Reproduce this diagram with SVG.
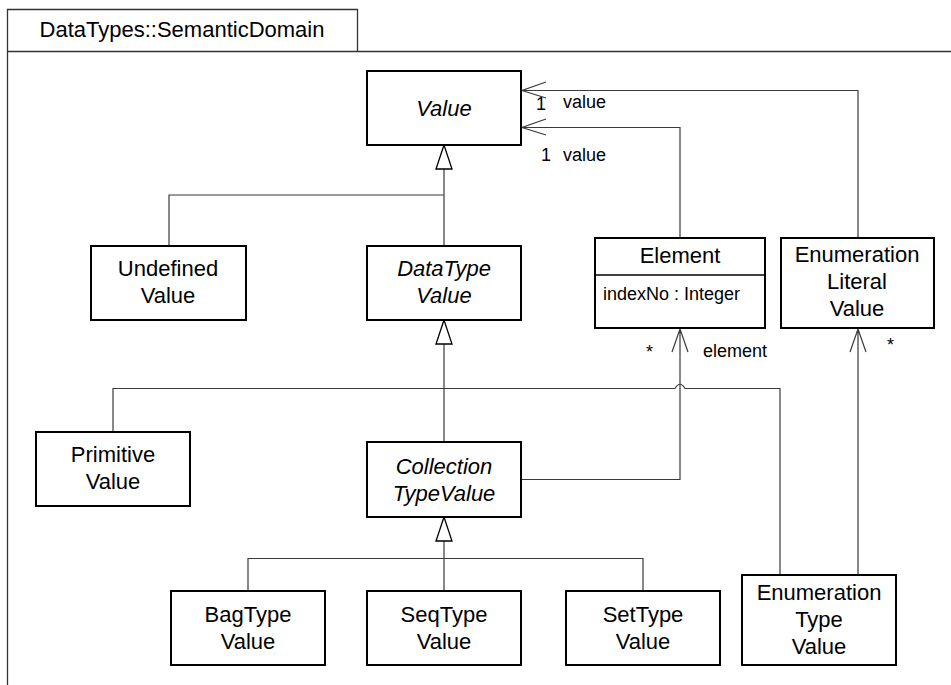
<svg xmlns="http://www.w3.org/2000/svg" width="951" height="685" viewBox="0 0 951 685">
<style>
.box{fill:#fff;stroke:#000;stroke-width:2}
.t{font-family:"Liberation Sans",Arial,sans-serif;font-size:22px;fill:#000;text-anchor:middle}
.i{font-style:italic}
.s{font-family:"Liberation Sans",Arial,sans-serif;font-size:18px;fill:#000}
.c{fill:none;stroke:#3a3a3a;stroke-width:1.2}
.gen{fill:#fff;stroke:#000;stroke-width:1.3}
.frame{fill:none;stroke:#333;stroke-width:1.3}
</style>
<rect width="951" height="685" fill="#fff"/>
<g id="frame">
<path class="frame" d="M7.5,685 V9.5 H357.5 V51.5 M7.5,51.5 H951"/>
<text class="t" x="182" y="37">DataTypes::SemanticDomain</text>
</g>
<g id="connectors">
<!-- generalization Value -->
<path class="c" d="M444,169 V246 M444,195 H169 V246"/>
<polygon class="gen" points="444,145 436,169 452,169"/>
<!-- generalization DataTypeValue -->
<path class="c" d="M444,344 V442 M113,432 V388.5 H675 Q680,380 685,388.5 H780 V575"/>
<polygon class="gen" points="444,320 436,344 452,344"/>
<!-- generalization CollectionTypeValue -->
<path class="c" d="M444,541 V591 M248,591 V558.5 H643 V591"/>
<polygon class="gen" points="444,517 436,541 452,541"/>
<!-- Element -> Value -->
<path class="c" d="M680,238 V127.5 H522 M546,119 L522,127.5 L546,135"/>
<text class="s" x="541" y="161">1</text>
<text class="s" x="563" y="161">value</text>
<!-- EnumLiteral -> Value -->
<path class="c" d="M858,238 V90.5 H522 M546,82 L522,90.5 L546,98"/>
<text class="s" x="536" y="110">1</text>
<text class="s" x="563" y="108">value</text>
<!-- Collection -> Element -->
<path class="c" d="M522,479.5 H680 V329 M672,352 L680,329 L688,352"/>
<text class="s" x="646" y="358">*</text>
<text class="s" x="703" y="357">element</text>
<!-- EnumType -> EnumLiteral -->
<path class="c" d="M858,575 V329 M850,352 L858,329 L866,352"/>
<text class="s" x="887" y="351">*</text>
</g>
<g id="Value">
<rect class="box" x="367" y="71" width="154" height="74"/>
<text class="t i" x="444" y="116">Value</text>
</g>
<g id="UndefinedValue">
<rect class="box" x="91" y="246" width="155" height="74"/>
<text class="t" x="168" y="276">Undefined</text>
<text class="t" x="168" y="303">Value</text>
</g>
<g id="DataTypeValue">
<rect class="box" x="367" y="246" width="154" height="74"/>
<text class="t i" x="444" y="276">DataType</text>
<text class="t i" x="444" y="303">Value</text>
</g>
<g id="Element">
<rect class="box" x="595" y="238" width="170" height="90"/>
<line x1="595" y1="275" x2="765" y2="275" stroke="#000" stroke-width="1.3"/>
<text class="t" x="680" y="263">Element</text>
<text class="s" x="603" y="300">indexNo : Integer</text>
</g>
<g id="EnumerationLiteralValue">
<rect class="box" x="781" y="238" width="153" height="90"/>
<text class="t" x="857" y="262">Enumeration</text>
<text class="t" x="857" y="289">Literal</text>
<text class="t" x="857" y="316">Value</text>
</g>
<g id="PrimitiveValue">
<rect class="box" x="36" y="432" width="154" height="74"/>
<text class="t" x="113" y="462">Primitive</text>
<text class="t" x="113" y="489">Value</text>
</g>
<g id="CollectionTypeValue">
<rect class="box" x="367" y="442" width="154" height="75"/>
<text class="t i" x="444" y="474">Collection</text>
<text class="t i" x="444" y="501">TypeValue</text>
</g>
<g id="BagTypeValue">
<rect class="box" x="171" y="591" width="154" height="74"/>
<text class="t" x="248" y="622">BagType</text>
<text class="t" x="248" y="649">Value</text>
</g>
<g id="SeqTypeValue">
<rect class="box" x="367" y="591" width="154" height="74"/>
<text class="t" x="444" y="622">SeqType</text>
<text class="t" x="444" y="649">Value</text>
</g>
<g id="SetTypeValue">
<rect class="box" x="566" y="591" width="154" height="74"/>
<text class="t" x="643" y="622">SetType</text>
<text class="t" x="643" y="649">Value</text>
</g>
<g id="EnumerationTypeValue">
<rect class="box" x="742" y="575" width="154" height="90"/>
<text class="t" x="819" y="600">Enumeration</text>
<text class="t" x="819" y="627">Type</text>
<text class="t" x="819" y="654">Value</text>
</g>
</svg>
